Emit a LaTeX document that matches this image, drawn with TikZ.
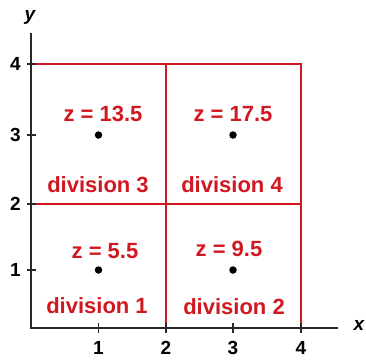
\documentclass[tikz,border=0pt]{standalone}
\usepackage{fontspec}
\setmainfont{Liberation Sans}
\definecolor{gridred}{RGB}{208,24,32}
\definecolor{axisgray}{RGB}{40,40,40}
\begin{document}
\begin{tikzpicture}[x=1pt,y=-1pt,
  axisline/.style={draw=axisgray,line width=2pt},
  gridline/.style={draw=gridred,line width=1.4pt},
  ticklbl/.style={font=\bfseries\fontsize{19}{19}\selectfont,text=black,inner sep=0pt},
  divlbl/.style={font=\bfseries\fontsize{22}{22}\selectfont,text=gridred,inner sep=0pt},
  pt/.style={circle,fill=black,inner sep=0pt,minimum size=7.5pt}]
\useasboundingbox (0,0) rectangle (366,360);
% axes
\coordinate (O) at (31,328);
\coordinate (ytop) at (31,33);
\coordinate (xend) at (338,328);
% grid
\draw[gridline] (31,64) -- (301,64) -- (301,328);
\draw[gridline] (31,204) -- (301,204);
\draw[gridline] (166,64) -- (166,328);
\draw[axisline] (ytop) -- (O) -- (xend);
% ticks
\foreach \yy/\lab in {270/1,204/2,135/3,64/4}{
  \draw[axisline,line width=1.4pt] (27,\yy) -- (36,\yy);
  \node[ticklbl] (ty\lab) at (15.5,\yy) {\lab};
}
\foreach \xx/\lab in {98.5/1,166/2,233/3,301/4}{
  \draw[axisline,line width=1.4pt] (\xx,323) -- (\xx,333);
  \node[ticklbl] (tx\lab) at (\xx,348) {\lab};
}
\node[ticklbl,font=\bfseries\itshape\fontsize{19}{19}\selectfont] (ylab) at (30,17) {y};
\node[ticklbl,font=\bfseries\itshape\fontsize{19}{19}\selectfont] (xlab) at (359,325) {x};
% points
\node[pt] (p1) at (98.5,270) {};
\node[pt] (p2) at (233,270) {};
\node[pt] (p3) at (98.5,135) {};
\node[pt] (p4) at (233,135) {};
% labels
\node[divlbl] (z3) at (103,114) {z = 13.5};
\node[divlbl] (z4) at (233,114) {z = 17.5};
\node[divlbl] (z1) at (105,251) {z = 5.5};
\node[divlbl] (z2) at (229,249) {z = 9.5};
\node[divlbl] (d3) at (98,185) {division 3};
\node[divlbl] (d4) at (232,185) {division 4};
\node[divlbl] (d1) at (97,306) {division 1};
\node[divlbl] (d2) at (234,307) {division 2};
\end{tikzpicture}
\end{document}
